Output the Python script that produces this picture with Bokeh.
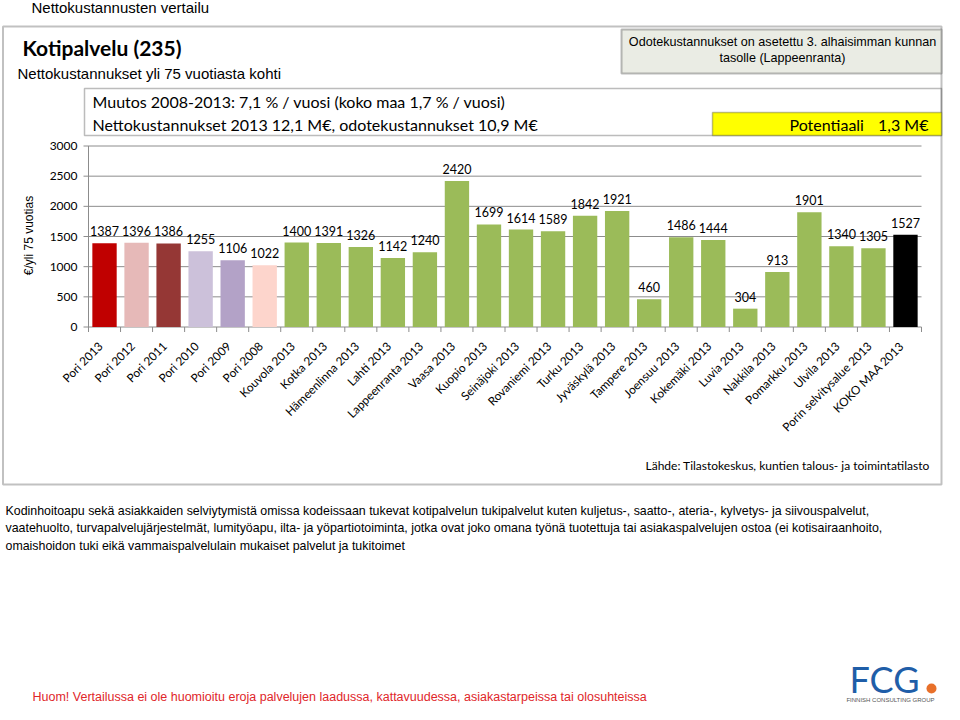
import math
from bokeh.plotting import figure
from bokeh.models import Label, BoxAnnotation, Range1d, ColumnDataSource
from bokeh.core.properties import value
from bokeh.embed import file_html
from bokeh.resources import INLINE

# ---------------- data ----------------
categories = ["Pori 2013", "Pori 2012", "Pori 2011", "Pori 2010", "Pori 2009", "Pori 2008",
              "Kouvola 2013", "Kotka 2013", "Hämeenlinna 2013", "Lahti 2013",
              "Lappeenranta 2013", "Vaasa 2013", "Kuopio 2013", "Seinäjoki 2013",
              "Rovaniemi 2013", "Turku 2013", "Jyväskylä 2013", "Tampere 2013",
              "Joensuu 2013", "Kokemäki 2013", "Luvia 2013", "Nakkila 2013",
              "Pomarkku 2013", "Ulvila 2013", "Porin selvitysalue 2013", "KOKO MAA 2013"]
values = [1387, 1396, 1386, 1255, 1106, 1022, 1400, 1391, 1326, 1142, 1240, 2420, 1699,
          1614, 1589, 1842, 1921, 460, 1486, 1444, 304, 913, 1901, 1340, 1305, 1527]
bar_colors = ["#c00000", "#e6b9b8", "#953735", "#ccc1da", "#b3a2c7", "#fdd5cc"] + \
             ["#9bbb59"] * 19 + ["#000000"]
y_ticks = [0, 500, 1000, 1500, 2000, 2500, 3000]

title = "Kotipalvelu (235)"
subtitle = "Nettokustannukset yli 75 vuotiasta kohti"
page_header = "Nettokustannusten vertailu"
y_title = "€/yli 75 vuotias"
info_lines = ["Odotekustannukset on asetettu 3. alhaisimman kunnan", "tasolle (Lappeenranta)"]
change_text = "Muutos 2008-2013: 7,1 % / vuosi (koko maa 1,7 % / vuosi)"
cost_text = "Nettokustannukset 2013 12,1 M€, odotekustannukset 10,9 M€"
potential_label = "Potentiaali"
potential_value = "1,3 M€"
source_text = "Lähde: Tilastokeskus, kuntien talous- ja toimintatilasto"
desc_lines = [
    "Kodinhoitoapu sekä asiakkaiden selviytymistä omissa kodeissaan tukevat kotipalvelun tukipalvelut kuten kuljetus-, saatto-, ateria-, kylvetys- ja siivouspalvelut,",
    "vaatehuolto, turvapalvelujärjestelmät, lumityöapu, ilta- ja yöpartiotoiminta, jotka ovat joko omana työnä tuotettuja tai asiakaspalvelujen ostoa (ei kotisairaanhoito,",
    "omaishoidon tuki eikä vammaispalvelulain mukaiset palvelut ja tukitoimet",
]
note_text = "Huom! Vertailussa ei ole huomioitu eroja palvelujen laadussa, kattavuudessa, asiakastarpeissa tai olosuhteissa"

# ---------------- layout ----------------
W, H = 944, 704
PL, PR, PT, PB = 88, 921, 145.5, 326.5   # plot area inside the canvas (pixels)
GRID = "#8c8c8c"
FONT = "Lato"

n = len(categories)
slot_px = (PR - PL) / n
ux = 1.0 / slot_px                       # data units per pixel (x)
uy = y_ticks[-1] / (PB - PT)             # data units per pixel (y)

p = figure(width=W, height=H, output_backend="svg", toolbar_location=None,
           x_range=Range1d(-PL * ux, (W - PL) * ux),
           y_range=Range1d(-(H - PB) * uy, y_ticks[-1] + PT * uy),
           x_axis_location=None, y_axis_location=None, min_border=0)
p.outline_line_color = None
p.grid.visible = False
p.background_fill_color = "white"
p.border_fill_color = "white"

slots = list(range(n))
centers = [i + 0.5 for i in slots]
edges = slots + [n]

# value grid + axis
p.segment(x0=[-5 * ux] * len(y_ticks), x1=[n] * len(y_ticks), y0=y_ticks, y1=y_ticks,
          line_color=GRID, line_width=1)
p.segment(x0=[0], x1=[0], y0=[y_ticks[0]], y1=[y_ticks[-1]], line_color=GRID, line_width=1)
p.text(x=[0] * len(y_ticks), y=y_ticks, text=[str(t) for t in y_ticks], x_offset=-11,
       text_align="right", text_baseline="middle", text_font=value(FONT),
       text_font_size="12px", text_color="black")
# category tick marks on boundaries
p.segment(x0=edges, x1=edges, y0=[0] * len(edges), y1=[-5 * uy] * len(edges),
          line_color=GRID, line_width=1)

src = ColumnDataSource(dict(x=centers, cat=categories, val=values, color=bar_colors,
                            label=[str(v) for v in values], base=[0] * n))
p.vbar(x="x", top="val", width=0.76, fill_color="color", line_color=None, source=src)
p.text(x="x", y="val", text="label", source=src, text_font=value(FONT),
       text_font_size="12.5px", text_align="center", text_baseline="bottom",
       y_offset=-7, text_color="black")
p.text(x="x", y="base", text="cat", source=src, text_font=value(FONT),
       text_font_size="11.8px", text_align="right", text_baseline="middle",
       angle=math.pi / 4, x_offset=-4, y_offset=17, text_color="black")


# helpers: X, Y are pixel positions in the picture (canvas origin top-left)
def sx(X):
    return X


def sy(Y):
    return H - Y


def lab(X, Y, text, size, font=FONT, color="black", align="left",
        baseline="middle", style="normal", angle=0):
    p.add_layout(Label(x=sx(X), y=sy(Y), x_units="screen", y_units="screen", text=text,
                       text_font=font, text_font_size=f"{size}px", text_color=color,
                       text_align=align, text_baseline=baseline, text_font_style=style,
                       angle=angle))


def box(x0, y0, x1, y1, fill=None, line="#222222", lw=1.5, radius=0):
    p.add_layout(BoxAnnotation(left=sx(x0), right=sx(x1), top=sy(y0), bottom=sy(y1),
                               left_units="screen", right_units="screen",
                               top_units="screen", bottom_units="screen",
                               fill_color=fill, fill_alpha=1 if fill else 0,
                               line_color=line, line_width=lw, border_radius=radius))


# outer frame
box(2.5, 26, 941, 484, fill=None, line="#333333", lw=2)
# info box top right
box(621, 29, 941, 73, fill="#eaece4", line="#222222", lw=2)
# change / cost box
box(84, 88, 941, 135, fill=None, line="#222222", lw=1.5)
box(712, 112, 941, 135, fill="#ffff00", line="#222222", lw=1.5)

lab(31, 7, page_header, 15, font="Liberation Sans")
lab(22, 47, title, 21, style="bold")
lab(17, 73, subtitle, 15, font="Liberation Sans")
lab(782, 41, info_lines[0], 12.6, font="Liberation Sans", align="center")
lab(782, 57, info_lines[1], 12.6, font="Liberation Sans", align="center")
lab(92, 101, change_text, 16)
lab(92, 124, cost_text, 16)
lab(789, 124, potential_label, 16)
lab(928, 124, potential_value, 16, align="right")
lab(28, 235, y_title, 12, font="Liberation Sans", align="center", angle=math.pi / 2)
lab(645, 465, source_text, 12)
for i, t in enumerate(desc_lines):
    lab(5, 510 + i * 17.5, t, 12.4, font="Liberation Sans")
lab(32, 696, note_text, 12.5, font="Liberation Sans", color="#e0262a")

# logo
lab(849, 678, "FCG", 36, color="#1f5ea8")
box(926, 683, 936, 693, fill="#e8702a", line=None, lw=0, radius=5)
lab(890, 699, "FINNISH CONSULTING GROUP", 6, font="Liberation Sans", color="#555555",
    align="center")

open("out.html", "w").write(file_html(p, INLINE))
